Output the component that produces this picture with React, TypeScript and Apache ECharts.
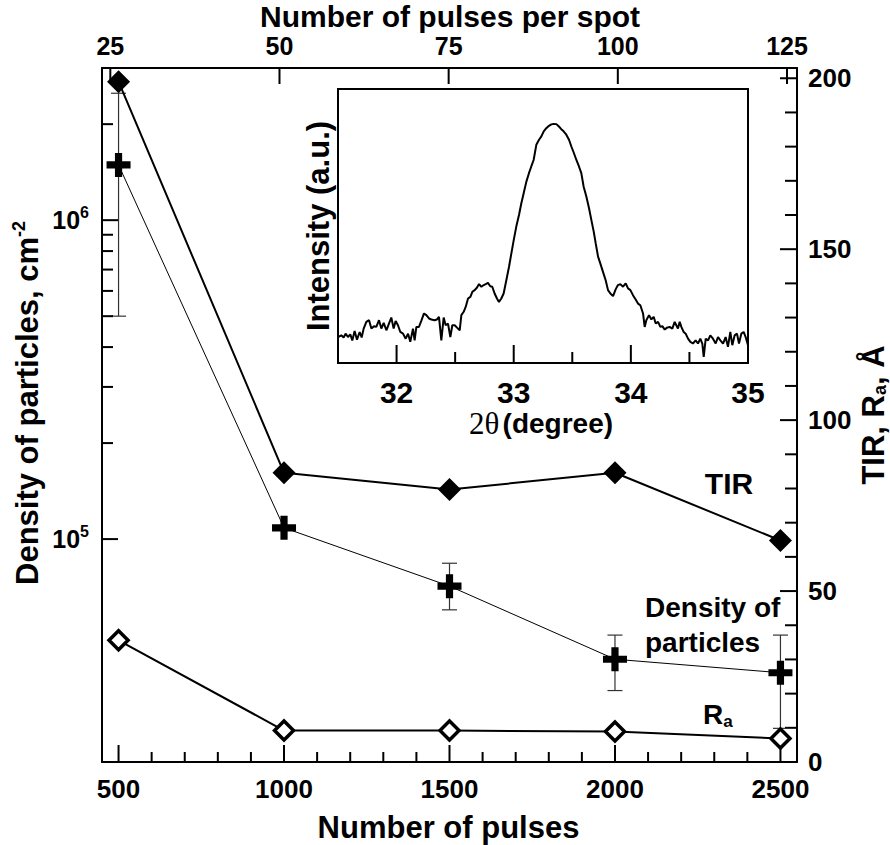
import React, { useEffect, useRef } from 'react';
import * as echarts from 'echarts';

// ---------- data ----------
const pulses = [500, 1000, 1500, 2000, 2500];
const tirValues = [199, 84.6, 79.7, 84.6, 64.8];
const densityValues = [1.49e6, 1.085e5, 7.12e4, 4.2e4, 3.81e4];
const raValues = [35.6, 9.2, 9.2, 8.9, 6.9];

const errPulses = [500, 1500, 2000, 2500];
const errLow = [5.0e5, 6.0e4, 3.35e4, 2.55e4];
const errHigh = [2.5e6, 8.4e4, 5.0e4, 5.0e4];

const bottomTicks = [500, 1000, 1500, 2000, 2500];
const bottomMinorTicks = [600, 700, 800, 900, 1100, 1200, 1300, 1400, 1600, 1700, 1800, 1900, 2100, 2200, 2300, 2400];
const topTicks = [25, 50, 75, 100, 125];
const leftMajorTicks = [1e5, 1e6];
const leftMinorTicks = [2e5, 3e5, 4e5, 5e5, 6e5, 7e5, 8e5, 9e5, 2e6];
const rightTicks = [0, 50, 100, 150, 200];
const rightMinorTicks = [10, 20, 30, 40, 60, 70, 80, 90, 110, 120, 130, 140, 160, 170, 180, 190];
const insetTicks = [32, 33, 34, 35];
const insetMinorTicks = [32.5, 33.5, 34.5];

const twoTheta = [
  31.500, 31.528, 31.548, 31.565, 31.585, 31.605, 31.622, 31.642, 31.662, 31.685,
  31.702, 31.719, 31.742, 31.765, 31.785, 31.807, 31.827, 31.850, 31.870, 31.890,
  31.913, 31.935, 31.955, 31.975, 31.992, 32.012, 32.032, 32.055, 32.078, 32.098,
  32.117, 32.140, 32.154, 32.169, 32.191, 32.211, 32.234, 32.254, 32.277, 32.297,
  32.325, 32.345, 32.362, 32.382, 32.402, 32.419, 32.439, 32.459, 32.476, 32.496,
  32.516, 32.539, 32.553, 32.573, 32.590, 32.610, 32.630, 32.647, 32.667, 32.687,
  32.704, 32.724, 32.744, 32.761, 32.780, 32.800, 32.817, 32.837, 32.857, 32.874,
  32.894, 32.914, 32.937, 32.960, 32.980, 33.000, 33.022, 33.045, 33.065, 33.085,
  33.108, 33.130, 33.150, 33.170, 33.193, 33.216, 33.236, 33.256, 33.278, 33.301,
  33.321, 33.341, 33.364, 33.386, 33.406, 33.426, 33.449, 33.472, 33.492, 33.512,
  33.535, 33.557, 33.577, 33.597, 33.620, 33.643, 33.663, 33.683, 33.700, 33.720,
  33.739, 33.762, 33.785, 33.805, 33.825, 33.848, 33.870, 33.890, 33.910, 33.933,
  33.956, 33.976, 33.996, 34.018, 34.041, 34.061, 34.081, 34.104, 34.118, 34.132,
  34.155, 34.175, 34.195, 34.212, 34.232, 34.252, 34.269, 34.289, 34.309, 34.331,
  34.354, 34.374, 34.388, 34.402, 34.417, 34.431, 34.451, 34.468, 34.488, 34.508,
  34.530, 34.553, 34.573, 34.593, 34.610, 34.622, 34.639, 34.659, 34.678, 34.701,
  34.724, 34.744, 34.764, 34.787, 34.809, 34.829, 34.849, 34.866, 34.886, 34.906,
  34.923, 34.943, 34.963, 34.980, 35.000,
];
const intensity = [
  10.8, 11.5, 10.6, 12.2, 10.8, 11.9, 9.4, 13.3, 9.7, 12.9,
  10.6, 14.3, 17.1, 17.8, 14.3, 15.3, 15.0, 17.8, 14.3, 16.7,
  13.6, 16.4, 18.9, 14.3, 17.5, 15.7, 12.9, 12.2, 10.1, 12.2,
  8.8, 14.3, 9.4, 15.0, 15.0, 17.5, 20.6, 19.9, 18.5, 18.1,
  17.8, 18.1, 19.2, 9.4, 18.9, 15.7, 16.4, 10.8, 15.7, 15.7,
  14.7, 13.6, 19.9, 21.3, 23.3, 26.8, 27.5, 29.6, 30.3, 31.4,
  32.8, 31.7, 32.4, 32.8, 33.3, 31.9, 31.7, 28.9, 26.8, 25.4,
  26.8, 28.9, 34.4, 40.0, 45.6, 51.1, 56.7, 61.5, 66.4, 70.6,
  75.4, 78.9, 81.7, 84.4, 90.7, 92.8, 94.2, 96.3, 97.6, 98.6,
  99.2, 99.4, 99.3, 98.3, 97.2, 96.3, 94.9, 92.8, 90.0, 87.5,
  84.4, 81.7, 78.9, 73.3, 69.2, 64.3, 59.4, 54.6, 49.7, 44.2,
  41.4, 37.9, 34.4, 30.3, 28.9, 27.8, 30.6, 32.4, 32.8, 31.7,
  33.1, 31.0, 30.3, 28.2, 26.4, 24.7, 24.0, 20.6, 15.0, 17.8,
  19.9, 18.1, 19.2, 16.4, 17.1, 15.0, 15.3, 13.9, 14.7, 15.0,
  14.3, 17.1, 15.7, 14.3, 17.1, 15.0, 12.9, 12.2, 10.1, 8.8,
  8.1, 9.4, 8.1, 10.1, 8.1, 2.5, 10.1, 9.4, 11.5, 10.1,
  8.1, 10.8, 9.4, 8.1, 10.8, 6.7, 12.9, 7.4, 11.5, 12.2,
  8.1, 12.2, 12.9, 10.8, 7.4,
];

// ---------- axis ranges ----------
const X_MIN = 450;
const X_MAX = 2550;
const TOP_MIN = 23.77;
const TOP_MAX = 126.48;
const LOG_MIN = 2e4;
const LOG_MAX = 3e6;
const R_MIN = 0;
const R_MAX = 203;
const IN_X_MIN = 31.5;
const IN_X_MAX = 35;
const IN_Y_MAX = 113.9;

// ---------- layout ----------
const MAIN = { left: 102, top: 68, width: 695, height: 694 };
const INSET = { left: 338, top: 89, width: 410, height: 274 };

// ---------- style ----------
const SANS = "'Liberation Sans', Arial, Helvetica, sans-serif";
const SERIF = "'Liberation Serif', 'Times New Roman', serif";
const BLACK = '#000';
const PLUS = 'path://M3.5,0H6.5V3.5H10V6.5H6.5V10H3.5V6.5H0V3.5H3.5Z';

const lbl = (size: number) => ({ fontSize: size, fontWeight: 'bold', fontFamily: SANS, color: BLACK });

function textGraphics(): any[] {
  return [
    {
      type: 'text', x: 450, y: 16.5, z: 10,
      style: { text: 'Number of pulses per spot', align: 'center', verticalAlign: 'middle', font: `bold 30px ${SANS}`, fill: BLACK },
    },
    {
      type: 'text', x: 448.5, y: 827, z: 10,
      style: { text: 'Number of pulses', align: 'center', verticalAlign: 'middle', font: `bold 31px ${SANS}`, fill: BLACK },
    },
    {
      type: 'text', x: 27, y: 403, rotation: Math.PI / 2, z: 10,
      style: {
        text: '{t|Density of particles, cm}{s|-2}', align: 'center', verticalAlign: 'middle',
        rich: {
          t: { fontSize: 31, fontWeight: 'bold', fontFamily: SANS, fill: BLACK },
          s: { fontSize: 18, fontWeight: 'bold', fontFamily: SANS, fill: BLACK, padding: [0, 0, 16, 0] },
        },
      },
    },
    {
      type: 'text', x: 873, y: 415, rotation: Math.PI / 2, z: 10,
      style: {
        text: '{t|TIR, R}{u|a}{t|, Å}', align: 'center', verticalAlign: 'middle',
        rich: {
          t: { fontSize: 31, fontWeight: 'bold', fontFamily: SANS, fill: BLACK },
          u: { fontSize: 18, fontWeight: 'bold', fontFamily: SANS, fill: BLACK, padding: [14, 0, 0, 0] },
        },
      },
    },
    {
      type: 'text', x: 729, y: 483, z: 10,
      style: { text: 'TIR', align: 'center', verticalAlign: 'middle', font: `bold 30px ${SANS}`, fill: BLACK },
    },
    {
      type: 'text', x: 645, y: 607.5, z: 10,
      style: { text: 'Density of', align: 'left', verticalAlign: 'middle', font: `bold 28px ${SANS}`, fill: BLACK },
    },
    {
      type: 'text', x: 645, y: 642, z: 10,
      style: { text: 'particles', align: 'left', verticalAlign: 'middle', font: `bold 28px ${SANS}`, fill: BLACK },
    },
    {
      type: 'text', x: 703, y: 714, z: 10,
      style: {
        text: '{t|R}{u|a}', align: 'left', verticalAlign: 'middle',
        rich: {
          t: { fontSize: 28, fontWeight: 'bold', fontFamily: SANS, fill: BLACK },
          u: { fontSize: 17, fontWeight: 'bold', fontFamily: SANS, fill: BLACK, padding: [14, 0, 0, 0] },
        },
      },
    },
    {
      type: 'text', x: 318, y: 226, rotation: Math.PI / 2, z: 10,
      style: { text: 'Intensity (a.u.)', align: 'center', verticalAlign: 'middle', font: `bold 31px ${SANS}`, fill: BLACK },
    },
    {
      type: 'text', x: 541, y: 423, z: 10,
      style: {
        text: '{g|2θ} {b|(degree)}', align: 'center', verticalAlign: 'middle',
        rich: {
          g: { fontSize: 31, fontFamily: SERIF, fill: BLACK },
          b: { fontSize: 28, fontWeight: 'bold', fontFamily: SANS, fill: BLACK },
        },
      },
    },
  ];
}

// Tick marks, built inside the (working) custom series: left / bottom through api.coord,
// the other axes with the same linear mapping of their ranges.
function tickChildren(api: any): any[] {
  const fTop = (v: number) => MAIN.left + ((v - TOP_MIN) / (TOP_MAX - TOP_MIN)) * MAIN.width;
  const fR = (v: number) => MAIN.top + MAIN.height - ((v - R_MIN) / (R_MAX - R_MIN)) * MAIN.height;
  const fIn = (v: number) => INSET.left + ((v - IN_X_MIN) / (IN_X_MAX - IN_X_MIN)) * INSET.width;
  const st = { stroke: '#000', lineWidth: 2 };
  const out: any[] = [];
  const seg = (x1: number, y1: number, x2: number, y2: number) =>
    out.push({ type: 'line', shape: { x1, y1, x2, y2 }, style: st });

  const leftX = api.coord([X_MIN, LOG_MIN])[0];
  const bottomY = api.coord([X_MIN, LOG_MIN])[1];
  const rightX = api.coord([X_MAX, LOG_MIN])[0];
  const topY = api.coord([X_MIN, LOG_MAX])[1];
  const inBottomY = INSET.top + INSET.height;

  leftMajorTicks.forEach((v) => { const y = api.coord([X_MIN, v])[1]; seg(leftX, y, leftX + 16, y); });
  leftMinorTicks.forEach((v) => { const y = api.coord([X_MIN, v])[1]; seg(leftX, y, leftX + 11, y); });
  bottomTicks.forEach((v) => { const x = api.coord([v, LOG_MIN])[0]; seg(x, bottomY, x, bottomY - 17); });
  bottomMinorTicks.forEach((v) => { const x = api.coord([v, LOG_MIN])[0]; seg(x, bottomY, x, bottomY - 10); });
  rightTicks.forEach((v) => { const y = fR(v); seg(rightX, y, rightX - 17, y); });
  rightMinorTicks.forEach((v) => { const y = fR(v); seg(rightX, y, rightX - 12, y); });
  topTicks.forEach((v) => { const x = fTop(v); seg(x, topY, x, topY + 16); });
  insetTicks.forEach((v) => { const x = fIn(v); seg(x, inBottomY, x, inBottomY - 18); });
  insetMinorTicks.forEach((v) => { const x = fIn(v); seg(x, inBottomY, x, inBottomY - 11); });
  return out;
}

function buildOption(): any {
  const line = { show: true, onZero: false, lineStyle: { color: BLACK, width: 2 } };
  const noTick = { show: false };
  const noSplit = { show: false };
  const fmt = (v: number) => String(v);

  return {
    animation: false,
    backgroundColor: '#fff',
    grid: [
      { ...MAIN, outerBoundsMode: 'none', containLabel: false },
      {
        ...INSET, show: true, backgroundColor: '#fff',
        borderColor: BLACK, borderWidth: 2, outerBoundsMode: 'none', containLabel: false,
      },
    ],
    xAxis: [
      {
        gridIndex: 0, type: 'value', position: 'bottom', min: X_MIN, max: X_MAX,
        axisLine: line, axisTick: noTick, splitLine: noSplit,
        axisLabel: { ...lbl(26), margin: 14, customValues: bottomTicks, formatter: fmt },
      },
      {
        gridIndex: 0, type: 'value', position: 'top', min: TOP_MIN, max: TOP_MAX,
        axisLine: line, axisTick: noTick, splitLine: noSplit,
        axisLabel: { ...lbl(25), margin: 10, customValues: topTicks, formatter: fmt },
      },
      {
        gridIndex: 1, type: 'value', position: 'bottom', min: IN_X_MIN, max: IN_X_MAX,
        axisLine: line, axisTick: noTick, splitLine: noSplit,
        axisLabel: { ...lbl(30), margin: 14, customValues: insetTicks, formatter: fmt },
      },
    ],
    yAxis: [
      {
        gridIndex: 0, type: 'log', logBase: 10, position: 'left', min: LOG_MIN, max: LOG_MAX,
        axisLine: line, axisTick: noTick, splitLine: noSplit,
        axisLabel: {
          margin: 13, customValues: leftMajorTicks,
          formatter: (v: number) => `{a|10}{b|${Math.round(Math.log10(v))}}`,
          rich: {
            a: { ...lbl(25) },
            b: { ...lbl(16), padding: [0, 0, 16, 0] },
          },
        },
      },
      {
        gridIndex: 0, type: 'value', position: 'right', min: R_MIN, max: R_MAX,
        axisLine: line, axisTick: noTick, splitLine: noSplit,
        axisLabel: { ...lbl(26), margin: 11, customValues: rightTicks, formatter: fmt },
      },
      { gridIndex: 1, type: 'value', min: 0, max: IN_Y_MAX, show: false },
    ],
    series: [
      {
        type: 'custom', name: 'errors', xAxisIndex: 0, yAxisIndex: 0, z: 1,
        data: errPulses.map((x, i) => [x, errLow[i], errHigh[i]]),
        encode: { x: 0, y: [1, 2] },
        renderItem: (params: any, api: any) => {
          const x = api.value(0);
          const lo = api.coord([x, api.value(1)]);
          const hi = api.coord([x, api.value(2)]);
          const hw = 7.5;
          const st = { stroke: '#333', lineWidth: 1.2 };
          const children: any[] = [
            { type: 'line', shape: { x1: lo[0], y1: lo[1], x2: hi[0], y2: hi[1] }, style: st },
            { type: 'line', shape: { x1: lo[0] - hw, y1: lo[1], x2: lo[0] + hw, y2: lo[1] }, style: st },
            { type: 'line', shape: { x1: hi[0] - hw, y1: hi[1], x2: hi[0] + hw, y2: hi[1] }, style: st },
          ];
          if (params.dataIndex === 0) children.push(...tickChildren(api));
          return { type: 'group', children };
        },
      },
      {
        type: 'line', name: 'Density of particles', xAxisIndex: 0, yAxisIndex: 0, z: 3,
        data: pulses.map((x, i) => [x, densityValues[i]]),
        symbol: PLUS, symbolSize: 24, symbolKeepAspect: true,
        itemStyle: { color: BLACK },
        lineStyle: { color: BLACK, width: 1 },
      },
      {
        type: 'line', name: 'TIR', xAxisIndex: 0, yAxisIndex: 1, z: 3,
        data: pulses.map((x, i) => [x, tirValues[i]]),
        symbol: 'diamond', symbolSize: 23,
        itemStyle: { color: BLACK },
        lineStyle: { color: BLACK, width: 2 },
      },
      {
        type: 'line', name: 'Ra', xAxisIndex: 0, yAxisIndex: 1, z: 3,
        data: pulses.map((x, i) => [x, raValues[i]]),
        symbol: 'diamond', symbolSize: 19,
        itemStyle: { color: '#fff', borderColor: BLACK, borderWidth: 3.5 },
        lineStyle: { color: BLACK, width: 2 },
      },
      {
        type: 'line', name: 'XRD', xAxisIndex: 2, yAxisIndex: 2, z: 3,
        data: twoTheta.map((x, i) => [x, intensity[i]]),
        showSymbol: false, symbol: 'none',
        lineStyle: { color: BLACK, width: 2 },
      },
    ],
    graphic: textGraphics(),
  };
}

export default function App() {
  const ref = useRef<HTMLDivElement>(null);
  useEffect(() => {
    document.body.style.margin = '0';
    if (!ref.current) return;
    const chart = echarts.init(ref.current, undefined, { renderer: 'svg' });
    chart.setOption(buildOption());
    return () => chart.dispose();
  }, []);
  return <div ref={ref} style={{ width: 890, height: 845 }} />;
}
